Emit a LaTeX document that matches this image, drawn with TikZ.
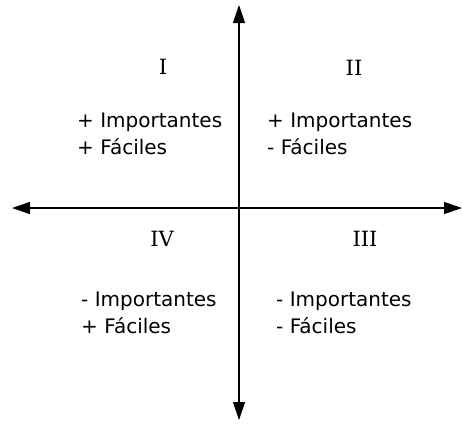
\documentclass[tikz,border=0pt]{standalone}
\usepackage{fontspec}
\setsansfont{DejaVu Sans}
\newfontfamily\numfont{DejaVu Serif}
\usetikzlibrary{arrows.meta}
\tikzset{
  quad/.style={font=\sffamily\fontsize{20}{27}\selectfont, align=left, anchor=west, inner sep=0pt},
  roman/.style={font=\numfont\fontsize{21}{21}\selectfont, inner sep=0pt},
  axis/.style={{Triangle[length=18pt,width=12pt]}-{Triangle[length=18pt,width=12pt]}, line width=1.1pt}
}

\begin{document}
\begin{tikzpicture}[x=1pt, y=-1pt]
    \useasboundingbox (0,0) rectangle (462,423);
    % axes
    \coordinate (top) at (239,5);
    \coordinate (bottom) at (239,420);
    \coordinate (left) at (12,208);
    \coordinate (right) at (462,208);
    \draw[axis] (left) -- (right);
    \draw[axis] (bottom) -- (top);
    % quadrant numbers
    \node[roman] (qI) at (163,67) {I};
    \node[roman] (qII) at (354,68) {II};
    \node[roman] (qIV) at (162,239) {IV};
    \node[roman] (qIII) at (365,239) {III};
    % quadrant texts
    \node[quad] (tI) at (77,134) {+ Importantes\\+ Fáciles};
    \node[quad] (tII) at (267,134) {+ Importantes\\- Fáciles};
    \node[quad] (tIV) at (81,313) {- Importantes\\+ Fáciles};
    \node[quad] (tIII) at (276,313) {- Importantes\\- Fáciles};
\end{tikzpicture}
\end{document}
